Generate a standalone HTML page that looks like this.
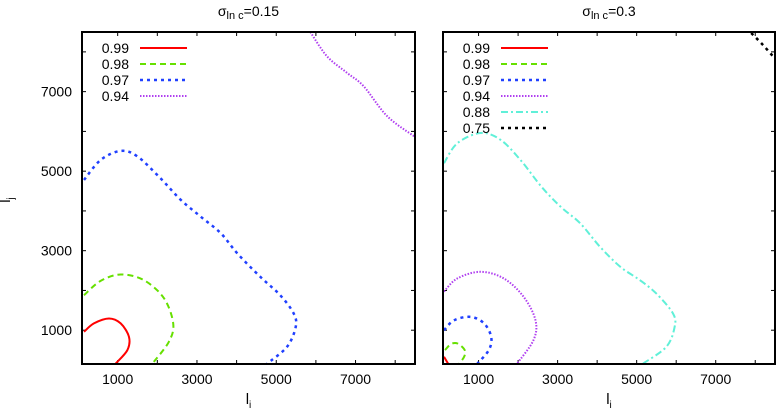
<!DOCTYPE html>
<html><head><meta charset="utf-8"><style>
body{margin:0;background:#fff;}
svg{display:block;font-family:"Liberation Sans",sans-serif;}
</style></head><body>
<svg id="chart" width="777" height="413"></svg>
<script>
const xTicks=[1000,3000,5000,7000];
const yTicks=[1000,3000,5000,7000];
const panelTitles=["0.15","0.3"];
const leftLevels=["0.99","0.98","0.97","0.94"];
const rightLevels=["0.99","0.98","0.97","0.94","0.88","0.75"];
const L99x=[150,400,780,1075,1285,1245,950], L99y=[960,1170,1295,1170,830,500,160];
const L98x=[150,570,1075,1660,2170,2400,2290,1875], L98y=[1880,2240,2400,2260,1800,1170,705,160];
const L97x=[150,570,1075,1500,2080,2590,3090,3600,4020,4600,5100,5440,5490,5270,4770];
const L97y=[4780,5280,5510,5370,4820,4280,3860,3440,2930,2340,1880,1420,1080,580,160];
const L94x=[5860,6280,6790,7210,7800,8490], L94y=[8500,7890,7470,7130,6380,5870];
const R99x=[125,230], R99y=[330,160];
const R98x=[150,300,470,650,635,510], R98y=[500,650,665,500,330,160];
const R97x=[125,380,800,1140,1320,1260,970], R97y=[1000,1250,1335,1170,830,500,160];
const R94x=[125,460,1050,1640,2140,2440,2390,1975], R94y=[1970,2300,2470,2300,1840,1250,750,160];
const R88x=[125,460,1050,1555,2060,2590,3070,3570,4070,4580,5080,5500,5920,5960,5750,5160];
const R88y=[5200,5700,5960,5790,5280,4610,4110,3690,3100,2600,2260,1920,1420,1080,580,160];
const R75x=[7897,8190,8484], R75y=[8475,8180,7850];

const XMIN=100,XMAX=8500,YMIN=150,YMAX=8500;
const panels=[{x0:82,x1:415},{x0:443,x1:775}];
const PT=32,PB=364;
const styles={
 "0.99":{c:"#ff0000",d:"",w:2},
 "0.98":{c:"#66e000",d:"6,4",w:2},
 "0.97":{c:"#2040ff",d:"3,4",w:2.5},
 "0.94":{c:"#b040f0",d:"1.5,1.5",w:2},
 "0.88":{c:"#60f0d8",d:"7,3,2,3",w:2},
 "0.75":{c:"#000000",d:"3,4",w:2.5}
};
const svg=document.getElementById('chart');
const NS="http://www.w3.org/2000/svg";
function mk(t,a,p){const e=document.createElementNS(NS,t);for(const k in a)e.setAttribute(k,a[k]);(p||svg).appendChild(e);return e;}
function sx(p,v){return p.x0+(v-XMIN)/(XMAX-XMIN)*(p.x1-p.x0);}
function sy(v){return PB-(v-YMIN)/(YMAX-YMIN)*(PB-PT);}
function smooth(P){
  if(P.length<3)return "M"+P.map(q=>q[0].toFixed(1)+","+q[1].toFixed(1)).join(" L");
  let d="M"+P[0][0].toFixed(1)+","+P[0][1].toFixed(1);
  for(let i=0;i<P.length-1;i++){
    const p0=P[i-1]||P[i],p1=P[i],p2=P[i+1],p3=P[i+2]||P[i+1];
    const c1=[p1[0]+(p2[0]-p0[0])/6,p1[1]+(p2[1]-p0[1])/6];
    const c2=[p2[0]-(p3[0]-p1[0])/6,p2[1]-(p3[1]-p1[1])/6];
    d+=" C"+c1[0].toFixed(1)+","+c1[1].toFixed(1)+" "+c2[0].toFixed(1)+","+c2[1].toFixed(1)+" "+p2[0].toFixed(1)+","+p2[1].toFixed(1);
  }
  return d;
}
function drawLine(p,xs,ys,lv,name){
  const st=styles[lv];
  const P=xs.map((x,i)=>[sx(p,x),sy(ys[i])]);
  const e=mk('path',{d:smooth(P),fill:"none",stroke:st.c,"stroke-width":st.w,"stroke-dasharray":st.d});
  
  
}
const series=[
 [[L99x,L99y,"0.99"],[L98x,L98y,"0.98"],[L97x,L97y,"0.97"],[L94x,L94y,"0.94"]],
 [[R99x,R99y,"0.99"],[R98x,R98y,"0.98"],[R97x,R97y,"0.97"],[R94x,R94y,"0.94"],[R88x,R88y,"0.88"],[R75x,R75y,"0.75"]]
];
const legends=[leftLevels,rightLevels];
panels.forEach((p,pi)=>{
  const cx=(p.x0+p.x1)/2;
  const t=mk('text',{x:cx,y:16,"text-anchor":"middle","font-size":14});
  
  
  t.innerHTML='σ<tspan font-size="11" dy="3">ln c</tspan><tspan dy="-3">='+panelTitles[pi]+'</tspan>';
  for(let v=1000;v<=8000;v+=1000){
    const X=sx(p,v),Y=sy(v);
    mk('line',{x1:X,x2:X,y1:PB,y2:PB-4,stroke:"#000"});
    mk('line',{x1:X,x2:X,y1:PT,y2:PT+4,stroke:"#000"});
    mk('line',{x1:p.x0,x2:p.x0+4,y1:Y,y2:Y,stroke:"#000"});
    mk('line',{x1:p.x1,x2:p.x1-4,y1:Y,y2:Y,stroke:"#000"});
  }
  xTicks.forEach(v=>{
    const e=mk('text',{x:sx(p,v),y:PB+20,"text-anchor":"middle","font-size":14});
    e.textContent=v;
    
    
  });
  if(pi===0){yTicks.forEach(v=>{
    const e=mk('text',{x:72,y:sy(v)+5,"text-anchor":"end","font-size":14});
    e.textContent=v;
    
    
  });}
  const xt=mk('text',{x:cx,y:404,"text-anchor":"middle","font-size":15});
  xt.innerHTML='l<tspan font-size="10" dy="4">i</tspan>';
  
  
  series[pi].forEach(s=>drawLine(p,s[0],s[1],s[2],'contour-'+s[2].replace('.','')));
  legends[pi].forEach((lv,i)=>{
    const y=48+i*16;
    const e=mk('text',{x:p.x0+47,y:y+5,"text-anchor":"end","font-size":14});
    e.textContent=lv;
    
    
    const st=styles[lv];
    const l=mk('line',{x1:p.x0+58,x2:p.x0+105,y1:y,y2:y,stroke:st.c,"stroke-width":st.w,"stroke-dasharray":st.d});
    
    
  });
  const fr=mk('rect',{x:p.x0,y:PT,width:p.x1-p.x0,height:PB-PT,fill:"none",stroke:"#000","stroke-width":2});
  
  
});
const yt=mk('text',{x:10,y:200,"text-anchor":"middle","font-size":15,transform:"rotate(-90 10 200)"});
yt.innerHTML='l<tspan font-size="10" dy="4">j</tspan>';


</script>
</body></html>
